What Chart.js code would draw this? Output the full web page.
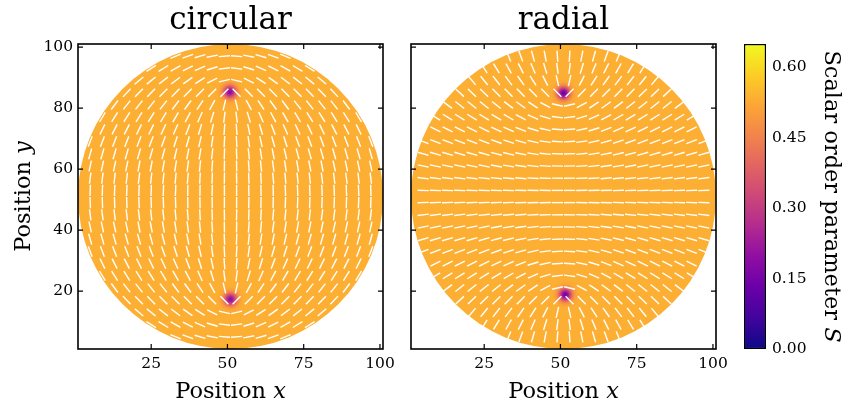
<!DOCTYPE html>
<html>
<head>
<meta charset="utf-8">
<script src="https://cdn.jsdelivr.net/npm/chart.js@4.4.1/dist/chart.umd.min.js"></script>
<style>
  body { margin: 0; background: #fff; }
  canvas { position: absolute; left: 0; top: 0; }
</style>
</head>
<body>
<canvas id="circular" width="847" height="407"></canvas>
<canvas id="radial" width="847" height="407"></canvas>
<canvas id="colorbar" width="847" height="407"></canvas>
<script>
// lattice of the director samples (every 4th site)
const gridX = [5, 9, 13, 17, 21, 25, 29, 33, 37, 41, 45, 49, 53, 57, 61, 65, 69, 73, 77, 81, 85, 89, 93, 97];
const gridY = [97, 93, 89, 85, 81, 77, 73, 69, 65, 61, 57, 53, 49, 45, 41, 37, 33, 29, 25, 21, 17, 13, 9, 5];

// director angle in degrees (from +x, counter-clockwise), one row per gridY, null = outside the disk
const circularDirector = [
  [null, null, null, null, null, null, null, 22, 20, 16, 11, 4, 176, 169, 164, 160, 158, null, null, null, null, null, null, null],
  [null, null, null, null, null, 32, 31, 29, 27, 23, 17, 7, 173, 163, 157, 153, 151, 149, 148, null, null, null, null, null],
  [null, null, null, null, 40, 39, 38, 37, 35, 33, 27, 13, 167, 153, 147, 145, 143, 142, 141, 140, null, null, null, null],
  [null, null, null, 47, 46, 46, 45, 45, 45, 45, 45, 45, 135, 135, 135, 135, 135, 135, 134, 134, 133, null, null, null],
  [null, null, 53, 52, 52, 52, 52, 53, 54, 57, 62, 77, 103, 118, 123, 126, 127, 128, 128, 128, 128, 127, null, null],
  [null, 59, 58, 58, 58, 58, 59, 60, 62, 66, 73, 83, 97, 107, 114, 118, 120, 121, 122, 122, 122, 122, 121, null],
  [null, 64, 63, 63, 64, 64, 65, 66, 69, 73, 78, 86, 94, 102, 107, 111, 114, 115, 116, 116, 117, 117, 116, null],
  [69, 69, 69, 69, 69, 69, 70, 72, 74, 77, 82, 87, 93, 98, 103, 106, 108, 110, 111, 111, 111, 111, 111, 111],
  [74, 74, 74, 74, 74, 74, 75, 77, 79, 81, 84, 88, 92, 96, 99, 101, 103, 105, 106, 106, 106, 106, 106, 106],
  [78, 78, 78, 78, 79, 79, 80, 81, 82, 84, 86, 89, 91, 94, 96, 98, 99, 100, 101, 101, 102, 102, 102, 102],
  [83, 83, 83, 83, 83, 84, 84, 85, 85, 87, 88, 89, 91, 92, 93, 95, 95, 96, 96, 97, 97, 97, 97, 97],
  [88, 88, 88, 88, 88, 88, 88, 88, 89, 89, 89, 90, 90, 91, 91, 91, 92, 92, 92, 92, 92, 92, 92, 92],
  [92, 92, 92, 92, 92, 92, 92, 92, 91, 91, 91, 90, 90, 89, 89, 89, 88, 88, 88, 88, 88, 88, 88, 88],
  [97, 97, 97, 97, 97, 96, 96, 95, 95, 93, 92, 91, 89, 88, 87, 85, 85, 84, 84, 83, 83, 83, 83, 83],
  [102, 102, 102, 102, 101, 101, 100, 99, 98, 96, 94, 91, 89, 86, 84, 82, 81, 80, 79, 79, 78, 78, 78, 78],
  [106, 106, 106, 106, 106, 106, 105, 103, 101, 99, 96, 92, 88, 84, 81, 79, 77, 75, 74, 74, 74, 74, 74, 74],
  [111, 111, 111, 111, 111, 111, 110, 108, 106, 103, 98, 93, 87, 82, 77, 74, 72, 70, 69, 69, 69, 69, 69, 69],
  [null, 116, 117, 117, 116, 116, 115, 114, 111, 107, 102, 94, 86, 78, 73, 69, 66, 65, 64, 64, 63, 63, 64, null],
  [null, 121, 122, 122, 122, 122, 121, 120, 118, 114, 107, 97, 83, 73, 66, 62, 60, 59, 58, 58, 58, 58, 59, null],
  [null, null, 127, 128, 128, 128, 128, 127, 126, 123, 118, 103, 77, 62, 57, 54, 53, 52, 52, 52, 52, 53, null, null],
  [null, null, null, 133, 134, 134, 135, 135, 135, 135, 135, 135, 45, 45, 45, 45, 45, 45, 46, 46, 47, null, null, null],
  [null, null, null, null, 140, 141, 142, 143, 145, 147, 153, 167, 13, 27, 33, 35, 37, 38, 39, 40, null, null, null, null],
  [null, null, null, null, null, 148, 149, 151, 153, 157, 163, 173, 7, 17, 23, 27, 29, 31, 32, null, null, null, null, null],
  [null, null, null, null, null, null, null, 158, 160, 164, 169, 176, 4, 11, 16, 20, 22, null, null, null, null, null, null, null]
];

const radialDirector = [
  [null, null, null, null, null, null, null, 112, 110, 106, 101, 94, 86, 79, 74, 70, 68, null, null, null, null, null, null, null],
  [null, null, null, null, null, 122, 121, 119, 117, 113, 107, 97, 83, 73, 67, 63, 61, 59, 58, null, null, null, null, null],
  [null, null, null, null, 130, 129, 128, 127, 125, 123, 117, 103, 77, 63, 57, 55, 53, 52, 51, 50, null, null, null, null],
  [null, null, null, 137, 136, 136, 135, 135, 135, 135, 135, 135, 45, 45, 45, 45, 45, 45, 44, 44, 43, null, null, null],
  [null, null, 143, 142, 142, 142, 142, 143, 144, 147, 152, 167, 13, 28, 33, 36, 37, 38, 38, 38, 38, 37, null, null],
  [null, 149, 148, 148, 148, 148, 149, 150, 152, 156, 163, 173, 7, 17, 24, 28, 30, 31, 32, 32, 32, 32, 31, null],
  [null, 154, 153, 153, 154, 154, 155, 156, 159, 163, 168, 176, 4, 12, 17, 21, 24, 25, 26, 26, 27, 27, 26, null],
  [159, 159, 159, 159, 159, 159, 160, 162, 164, 167, 172, 177, 3, 8, 13, 16, 18, 20, 21, 21, 21, 21, 21, 21],
  [164, 164, 164, 164, 164, 164, 165, 167, 169, 171, 174, 178, 2, 6, 9, 11, 13, 15, 16, 16, 16, 16, 16, 16],
  [168, 168, 168, 168, 169, 169, 170, 171, 172, 174, 176, 179, 1, 4, 6, 8, 9, 10, 11, 11, 12, 12, 12, 12],
  [173, 173, 173, 173, 173, 174, 174, 175, 175, 177, 178, 179, 1, 2, 3, 5, 5, 6, 6, 7, 7, 7, 7, 7],
  [178, 178, 178, 178, 178, 178, 178, 178, 179, 179, 179, 0, 0, 1, 1, 1, 2, 2, 2, 2, 2, 2, 2, 2],
  [2, 2, 2, 2, 2, 2, 2, 2, 1, 1, 1, 0, 0, 179, 179, 179, 178, 178, 178, 178, 178, 178, 178, 178],
  [7, 7, 7, 7, 7, 6, 6, 5, 5, 3, 2, 1, 179, 178, 177, 175, 175, 174, 174, 173, 173, 173, 173, 173],
  [12, 12, 12, 12, 11, 11, 10, 9, 8, 6, 4, 1, 179, 176, 174, 172, 171, 170, 169, 169, 168, 168, 168, 168],
  [16, 16, 16, 16, 16, 16, 15, 13, 11, 9, 6, 2, 178, 174, 171, 169, 167, 165, 164, 164, 164, 164, 164, 164],
  [21, 21, 21, 21, 21, 21, 20, 18, 16, 13, 8, 3, 177, 172, 167, 164, 162, 160, 159, 159, 159, 159, 159, 159],
  [null, 26, 27, 27, 26, 26, 25, 24, 21, 17, 12, 4, 176, 168, 163, 159, 156, 155, 154, 154, 153, 153, 154, null],
  [null, 31, 32, 32, 32, 32, 31, 30, 28, 24, 17, 7, 173, 163, 156, 152, 150, 149, 148, 148, 148, 148, 149, null],
  [null, null, 37, 38, 38, 38, 38, 37, 36, 33, 28, 13, 167, 152, 147, 144, 143, 142, 142, 142, 142, 143, null, null],
  [null, null, null, 43, 44, 44, 45, 45, 45, 45, 45, 45, 135, 135, 135, 135, 135, 135, 136, 136, 137, null, null, null],
  [null, null, null, null, 50, 51, 52, 53, 55, 57, 63, 77, 103, 117, 123, 125, 127, 128, 129, 130, null, null, null, null],
  [null, null, null, null, null, 58, 59, 61, 63, 67, 73, 83, 97, 107, 113, 117, 119, 121, 122, null, null, null, null, null],
  [null, null, null, null, null, null, null, 68, 70, 74, 79, 86, 94, 101, 106, 110, 112, null, null, null, null, null, null, null]
];

// scalar order parameter: bulk value and the two defect cores per panel
const sBulk = 0.535;
const circularDefects = [{ x: 50.8, y: 85.3, s: 0.18 }, { x: 51.0, y: 17.3, s: 0.19 }];
const radialDefects = [{ x: 51.0, y: 84.9, s: 0.13 }, { x: 51.6, y: 18.8, s: 0.14 }];

const xTicks = [25, 50, 75, 100];
const yTicks = [20, 40, 60, 80, 100];
const sTicks = [0, 0.15, 0.30, 0.45, 0.60];
const sRange = [0, 0.65];

const disk = { x: 51, y: 51, r: 50 };
const coreSize = 5;

const W = 847, H = 407;
const SERIF = '"DejaVu Serif", serif';
const plasma = ['#0d0887', '#41049d', '#6a00a8', '#8f0da4', '#b12a90', '#cc4778',
                '#e16462', '#f2844b', '#fca636', '#fcce25', '#f0f921'];

function hexRgb(h) {
  return [1, 3, 5].map(i => parseInt(h.substr(i, 2), 16));
}
function plasmaAt(s) {
  let t = (s - sRange[0]) / (sRange[1] - sRange[0]);
  t = Math.max(0, Math.min(1, t)) * 10;
  const i = Math.min(9, Math.floor(t));
  const a = hexRgb(plasma[i]), b = hexRgb(plasma[i + 1]);
  const f = t - i;
  const c = a.map((v, k) => Math.round(v + (b[k] - v) * f));
  return `rgb(${c[0]},${c[1]},${c[2]})`;
}

function dashPoints(angles) {
  const pts = [];
  gridY.forEach((y, r) => gridX.forEach((x, c) => {
    const a = angles[r][c];
    if (a !== null) pts.push({ x: x, y: y, a: a });
  }));
  return pts;
}

// disk of S with the defect cores, under the director dashes
const orderField = {
  id: 'orderField',
  beforeDatasetsDraw(chart, args, opts) {
    const { ctx, chartArea: a, scales: { x, y } } = chart;
    ctx.save();
    ctx.beginPath();
    ctx.rect(a.left, a.top, a.width, a.height);
    ctx.clip();
    const cx = x.getPixelForValue(disk.x), cy = y.getPixelForValue(disk.y);
    const r = x.getPixelForValue(disk.x + disk.r) - cx;
    ctx.beginPath();
    ctx.arc(cx, cy, r, 0, Math.PI * 2);
    ctx.fillStyle = plasmaAt(sBulk);
    ctx.fill();
    ctx.clip();
    opts.defects.forEach(d => {
      const px = x.getPixelForValue(d.x), py = y.getPixelForValue(d.y);
      const rr = x.getPixelForValue(d.x + coreSize) - px;
      const g = ctx.createRadialGradient(px, py, 0, px, py, rr);
      for (let k = 0; k <= 10; k++) {
        const t = k / 10;
        g.addColorStop(t, plasmaAt(sBulk - (sBulk - d.s) * Math.exp(-6 * t * t)));
      }
      ctx.fillStyle = g;
      ctx.fillRect(px - rr, py - rr, rr * 2, rr * 2);
    });
    ctx.restore();
  },
  afterDraw(chart, args, opts) {
    const { ctx, chartArea: a, scales: { x, y } } = chart;
    ctx.save();
    // inward ticks on all four sides
    ctx.strokeStyle = '#000';
    ctx.lineWidth = 1.2;
    ctx.beginPath();
    xTicks.forEach(v => {
      const px = x.getPixelForValue(v);
      ctx.moveTo(px, a.bottom); ctx.lineTo(px, a.bottom - 5);
      ctx.moveTo(px, a.top); ctx.lineTo(px, a.top + 5);
    });
    yTicks.forEach(v => {
      const py = y.getPixelForValue(v);
      ctx.moveTo(a.left, py); ctx.lineTo(a.left + 5, py);
      ctx.moveTo(a.right, py); ctx.lineTo(a.right - 5, py);
    });
    ctx.stroke();
    ctx.lineWidth = 1.6;
    ctx.strokeRect(a.left, a.top, a.width, a.height);

    // titles
    const mid = (a.left + a.right) / 2;
    ctx.fillStyle = '#000';
    ctx.textBaseline = 'alphabetic';
    ctx.textAlign = 'center';
    ctx.font = '31px ' + SERIF;
    ctx.fillText(opts.title, mid, 29);
    mixedLabel(ctx, 'Position ', 'x', mid, 398);
    if (opts.yTitle) {
      ctx.translate(30, (a.top + a.bottom) / 2);
      ctx.rotate(-Math.PI / 2);
      mixedLabel(ctx, 'Position ', 'y', 0, 0);
    }
    ctx.restore();
  }
};

// roman text followed by an italic symbol, centred on cx
function mixedLabel(ctx, text, sym, cx, base) {
  ctx.textAlign = 'left';
  ctx.font = '22.5px ' + SERIF;
  const w1 = ctx.measureText(text).width;
  ctx.font = 'italic 22.5px ' + SERIF;
  const w2 = ctx.measureText(sym).width;
  const x0 = cx - (w1 + w2) / 2;
  ctx.font = '22.5px ' + SERIF;
  ctx.fillText(text, x0, base);
  ctx.font = 'italic 22.5px ' + SERIF;
  ctx.fillText(sym, x0 + w1, base);
}

const tickFont = { family: SERIF, size: 15.5 };

function panel(id, title, angles, defects, area, yLabels) {
  return new Chart(document.getElementById(id), {
    type: 'scatter',
    data: {
      datasets: [{
        data: dashPoints(angles),
        showLine: false,
        pointStyle: 'line',
        pointRadius: 5.6,
        pointBorderColor: '#ffffff',
        pointBorderWidth: 1.4,
        pointRotation: ctx => (ctx.raw ? -ctx.raw.a : 0)
      }]
    },
    options: {
      responsive: false,
      animation: false,
      events: [],
      layout: { padding: { left: 0, top: area.top, right: W - area.right, bottom: 0 } },
      plugins: {
        legend: { display: false },
        tooltip: { enabled: false },
        orderField: { title: title, defects: defects, yTitle: yLabels }
      },
      scales: {
        x: {
          type: 'linear', min: 1, max: 101,
          grid: { display: false, drawTicks: false },
          border: { display: false },
          ticks: { font: tickFont, color: '#000', padding: 6, maxRotation: 0 },
          afterBuildTicks: s => { s.ticks = xTicks.map(v => ({ value: v })); },
          afterFit: s => { s.height = H - area.bottom; s.paddingLeft = 0; s.paddingRight = 0; }
        },
        y: {
          type: 'linear', min: 1, max: 101,
          grid: { display: false, drawTicks: false },
          border: { display: false },
          ticks: { display: yLabels, font: tickFont, color: '#000', padding: 5 },
          afterBuildTicks: s => { s.ticks = yTicks.map(v => ({ value: v })); },
          afterFit: s => { s.width = area.left; s.paddingTop = 0; s.paddingBottom = 0; }
        }
      }
    },
    plugins: [orderField]
  });
}

panel('circular', 'circular', circularDirector, circularDefects, { left: 78, right: 383, top: 44, bottom: 349 }, true);
panel('radial', 'radial', radialDirector, radialDefects, { left: 411, right: 716, top: 44, bottom: 349 }, false);

// colour bar
const barTitle = {
  id: 'barTitle',
  afterDraw(chart) {
    const { ctx, chartArea: a } = chart;
    ctx.save();
    ctx.translate(825, (a.top + a.bottom) / 2);
    ctx.rotate(Math.PI / 2);
    ctx.fillStyle = '#000';
    ctx.textBaseline = 'alphabetic';
    mixedLabel(ctx, 'Scalar order parameter ', 'S', 0, 0);
    ctx.restore();
  }
};

new Chart(document.getElementById('colorbar'), {
  type: 'bar',
  data: {
    labels: ['S'],
    datasets: [{
      data: [sRange],
      backgroundColor: ctx => {
        const chart = ctx.chart;
        if (!chart.chartArea) return plasma[8];
        const y = chart.scales.y;
        const g = chart.ctx.createLinearGradient(0, y.getPixelForValue(sRange[0]), 0, y.getPixelForValue(sRange[1]));
        plasma.forEach((c, i) => g.addColorStop(i / (plasma.length - 1), c));
        return g;
      },
      borderColor: '#000',
      borderWidth: 1.5,
      borderSkipped: false,
      barPercentage: 1,
      categoryPercentage: 1
    }]
  },
  options: {
    responsive: false,
    animation: false,
    events: [],
    layout: { padding: { left: 744, top: 44, right: 0, bottom: 58 } },
    plugins: { legend: { display: false }, tooltip: { enabled: false } },
    scales: {
      x: { display: false },
      y: {
        position: 'right', min: sRange[0], max: sRange[1],
        grid: { display: false, drawTicks: false },
        border: { display: false },
        ticks: { font: tickFont, color: '#000', padding: 6, callback: v => v.toFixed(2) },
        afterBuildTicks: s => { s.ticks = sTicks.map(v => ({ value: v })); },
        afterFit: s => { s.width = 81; s.paddingTop = 0; s.paddingBottom = 0; }
      }
    }
  },
  plugins: [barTitle]
});
</script>
</body>
</html>
